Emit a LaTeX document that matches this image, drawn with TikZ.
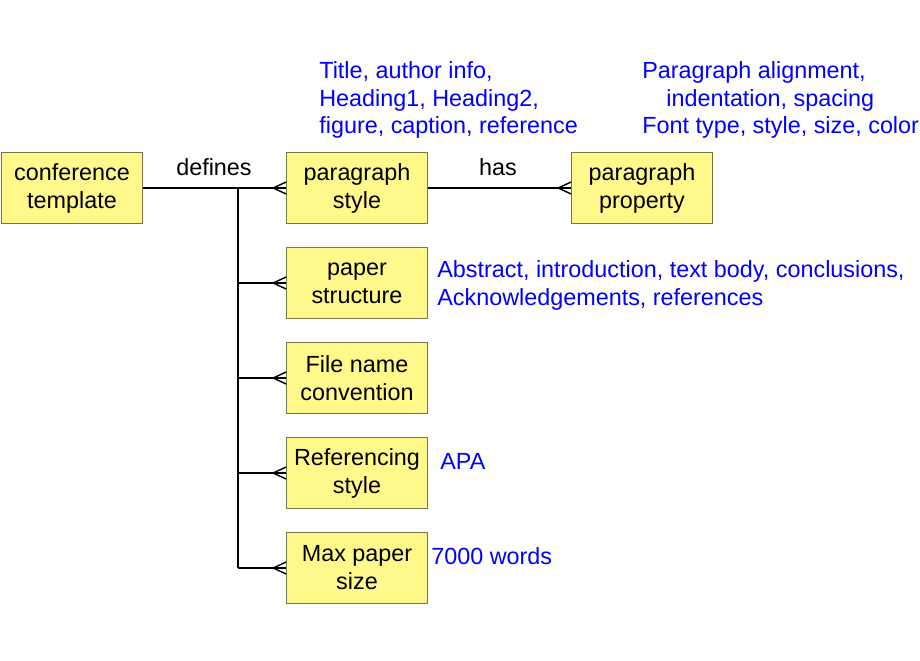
\documentclass[tikz,border=0pt]{standalone}
\usepackage{fontspec}
\setmainfont{Liberation Sans}
\usetikzlibrary{calc}
\tikzset{
  entity/.style={draw=yellow!40!black, fill=yellow!45, minimum width=141*0.02cm,
    minimum height=71*0.02cm, align=center, inner sep=1pt, font=\fontsize{13.3}{15.9}\selectfont},
  note/.style={text=blue, anchor=west, align=left, inner sep=0pt, font=\fontsize{13.3}{15.9}\selectfont},
  rel/.style={font=\fontsize{13.3}{15.9}\selectfont, inner sep=0pt},
  link/.style={thick},
}
\begin{document}
\begin{tikzpicture}[x=0.02cm, y=-0.02cm]
  \useasboundingbox (0,0) rectangle (920,660);
  \node [entity] (conf) at (72,188) {conference\\template};
  \node [entity] (pstyle) at (357,188) {paragraph\\style};
  \node [entity] (pprop) at (642,188) {paragraph\\property};
  \node [entity] (struct) at (357,283) {paper\\structure};
  \node [entity] (fname) at (357,378) {File name\\convention};
  \node [entity] (refs) at (357,473) {Referencing\\style};
  \node [entity] (size) at (357,568) {Max paper\\size};
  % connectors
  \coordinate (trunk) at (238,188);
  \draw [link] (conf) -- (pstyle);
  \draw [link] (pstyle) -- (pprop);
  \draw [link] (trunk) -- (trunk |- size);
  \foreach \n in {struct,fname,refs,size}
    \draw [link] (trunk |- \n) -- (\n.west);
  % crow's feet
  \foreach \n in {pstyle,pprop,struct,fname,refs,size}
    \draw [link] ($(\n.west)+(0,-6)$) -- ($(\n.west)+(-13,0)$) -- ($(\n.west)+(0,6)$);
  \node [rel] (defines) at (214,167) {defines};
  \node [rel] (has) at (498,167) {has};
  % notes
  \node [note] (n1) at (319,100) {Title, author info,\\Heading1, Heading2,\\figure, caption, reference};
  \node [note] (n2) at (642,100) {Paragraph alignment,\\\hspace*{0.48cm}indentation, spacing\\Font type, style, size, color};
  \node [note] (n3) at (437,285) {Abstract, introduction, text body, conclusions,\\Acknowledgements, references};
  \node [note] (n4) at (440,461) {APA};
  \node [note] (n5) at (431,556) {7000 words};
\end{tikzpicture}
\end{document}
